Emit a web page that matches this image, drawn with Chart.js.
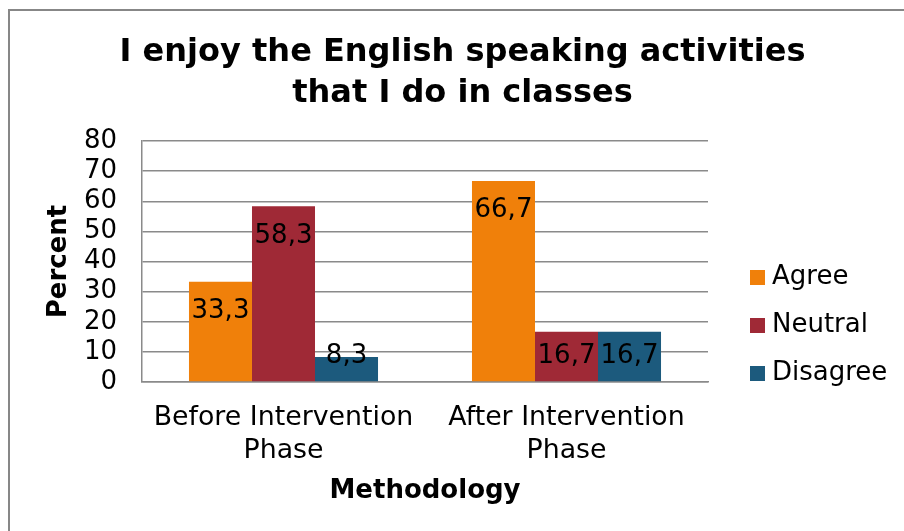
<!DOCTYPE html>
<html>
<head>
<meta charset="utf-8">
<style>
  html, body { margin: 0; padding: 0; background: #ffffff; }
  canvas { display: block; }
</style>
<script src="https://cdn.jsdelivr.net/npm/chart.js@4/dist/chart.umd.min.js"></script>
</head>
<body>
<canvas id="c" width="904" height="531"></canvas>
<script>
// ---- data ----
const titleLines = ['I enjoy the English speaking activities', 'that I do in classes'];
const categories = [['Before Intervention', 'Phase'], ['After Intervention', 'Phase']];
const seriesNames = ['Agree', 'Neutral', 'Disagree'];
const agreeValues = [33.3, 66.7];
const neutralValues = [58.3, 16.7];
const disagreeValues = [8.3, 16.7];
const yMin = 0, yMax = 80, yStep = 10;
const xAxisTitle = 'Methodology';
const yAxisTitle = 'Percent';

// ---- styles ----
const FONT = "'DejaVu Sans', Verdana, sans-serif";
const colors = ['#F0800A', '#9F2936', '#1C5A7D'];
const gridGray = '#8A8A8A';

const fmt = v => v.toFixed(1).replace('.', ',');

const frame = {
  id: 'frame',
  beforeDraw(chart) {
    const ctx = chart.ctx;
    ctx.save();
    ctx.fillStyle = '#ffffff';
    ctx.fillRect(0, 0, chart.width, chart.height);
    ctx.fillStyle = '#878787';
    ctx.fillRect(8, 9, chart.width - 8, 2);
    ctx.fillRect(8, 9, 2, chart.height - 9);
    ctx.restore();
  }
};

const titlePlugin = {
  id: 'customTitle',
  afterDraw(chart) {
    const ctx = chart.ctx;
    ctx.save();
    ctx.fillStyle = '#000000';
    ctx.font = "bold 32px " + FONT;
    ctx.textAlign = 'center';
    ctx.textBaseline = 'alphabetic';
    const baselines = [61, 102];
    titleLines.forEach((t, i) => ctx.fillText(t, 462.5, baselines[i]));
    ctx.restore();
  }
};

const legendPlugin = {
  id: 'customLegend',
  afterDraw(chart) {
    const ctx = chart.ctx;
    ctx.save();
    ctx.font = "26px " + FONT;
    ctx.textAlign = 'left';
    ctx.textBaseline = 'middle';
    const ys = [277.5, 325.5, 373.5];
    chart.data.datasets.forEach((ds, i) => {
      ctx.fillStyle = ds.backgroundColor;
      ctx.fillRect(750, ys[i] - 7.5, 15, 15);
      ctx.fillStyle = '#000000';
      ctx.fillText(ds.label, 772, ys[i]);
    });
    ctx.restore();
  }
};

const labelPlugin = {
  id: 'barLabels',
  afterDatasetsDraw(chart) {
    const ctx = chart.ctx;
    ctx.save();
    ctx.font = "26px " + FONT;
    ctx.fillStyle = '#000000';
    ctx.textAlign = 'center';
    ctx.textBaseline = 'middle';
    chart.data.datasets.forEach((ds, di) => {
      const meta = chart.getDatasetMeta(di);
      meta.data.forEach((bar, i) => {
        const y = Math.min(bar.y + 29.5, bar.base - 25.5);
        ctx.fillText(fmt(ds.data[i]), bar.x, y);
      });
    });
    ctx.restore();
  }
};

new Chart(document.getElementById('c'), {
  type: 'bar',
  data: {
    labels: categories,
    datasets: [
      { label: seriesNames[0], data: agreeValues, backgroundColor: colors[0] },
      { label: seriesNames[1], data: neutralValues, backgroundColor: colors[1] },
      { label: seriesNames[2], data: disagreeValues, backgroundColor: colors[2] }
    ]
  },
  options: {
    responsive: false,
    animation: false,
    devicePixelRatio: 1,
    layout: { padding: { top: 141, right: 196, bottom: 0, left: 0 } },
    datasets: {
      bar: { categoryPercentage: 0.668, barPercentage: 1.0, borderWidth: 0 }
    },
    plugins: {
      legend: { display: false },
      title: { display: false },
      tooltip: { enabled: false }
    },
    scales: {
      x: {
        grid: { display: false, drawTicks: false },
        border: { display: true, color: gridGray, width: 1.5 },
        ticks: {
          color: '#000000',
          padding: 19.5,
          maxRotation: 0,
          autoSkip: false,
          font: { family: FONT, size: 26.8, lineHeight: 33 / 26.8 }
        },
        title: {
          display: true,
          text: xAxisTitle,
          color: '#000000',
          padding: { top: 24.4, bottom: 24.4 },
          font: { family: FONT, size: 26, weight: 'bold' }
        },
        afterFit(scale) { scale.height = 149; }
      },
      y: {
        min: yMin,
        max: yMax,
        grid: { color: gridGray, lineWidth: 1.5, drawTicks: false },
        border: { display: true, color: gridGray, width: 1.5 },
        ticks: {
          stepSize: yStep,
          autoSkip: false,
          color: '#000000',
          padding: 25,
          font: { family: FONT, size: 26 }
        },
        title: {
          display: true,
          text: yAxisTitle,
          color: '#000000',
          padding: { top: 43.4, bottom: 43.4 },
          font: { family: FONT, size: 26, weight: 'bold' }
        },
        afterFit(scale) { scale.width = 142; }
      }
    }
  },
  plugins: [frame, titlePlugin, legendPlugin, labelPlugin]
});
</script>
</body>
</html>
